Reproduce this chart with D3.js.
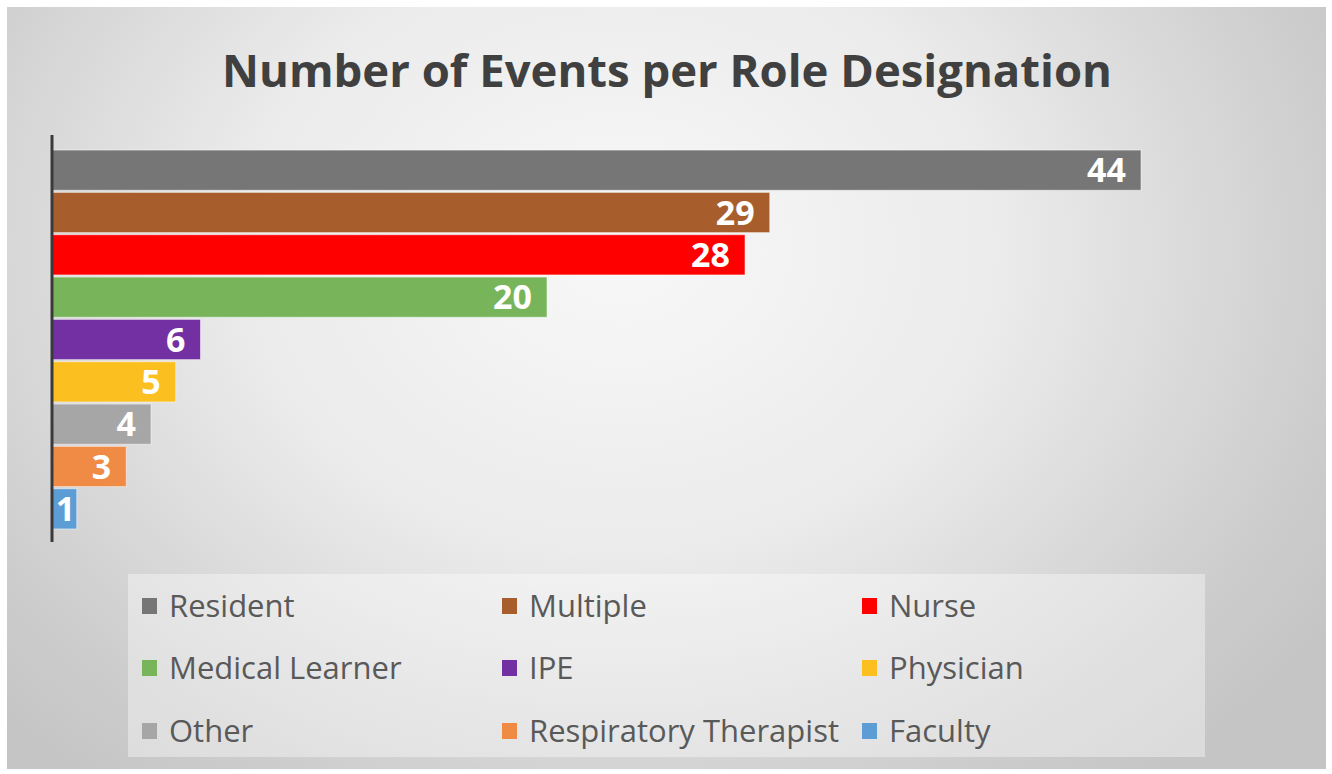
<!DOCTYPE html>
<html><head><meta charset="utf-8">
<script src="https://cdn.jsdelivr.net/npm/d3@7/dist/d3.min.js"></script>
<style>body{margin:0;background:#fff;overflow:hidden}</style>
</head><body>
<svg id="c" width="1332" height="774"></svg>
<script>
const categories = ["Resident","Multiple","Nurse","Medical Learner","IPE","Physician","Other","Respiratory Therapist","Faculty"];
const values = [44,29,28,20,6,5,4,3,1];
const colors = ["#767676","#A85E2C","#FF0000","#78B55A","#7230A3","#FBBF20","#A6A6A6","#EF8B45","#5D9DD6"];
const title = "Number of Events per Role Designation";

const svg = d3.select("#c");
const defs = svg.append("defs");
const rg = defs.append("radialGradient").attr("id","bg")
  .attr("gradientUnits","userSpaceOnUse").attr("cx",620).attr("cy",250).attr("r",850)
  .attr("gradientTransform","translate(620,250) scale(1,0.8) translate(-620,-250)");
rg.append("stop").attr("offset","0").attr("stop-color","#f8f8f8");
rg.append("stop").attr("offset","0.45").attr("stop-color","#ebebeb");
rg.append("stop").attr("offset","0.85").attr("stop-color","#cdcdcd");
rg.append("stop").attr("offset","1").attr("stop-color","#c5c5c5");

svg.append("rect").attr("x",0).attr("y",0).attr("width",1332).attr("height",774).attr("fill","#fff");
svg.append("rect").attr("x",7).attr("y",7).attr("width",1319).attr("height",762).attr("fill","url(#bg)");

// title
const t = svg.append("text").attr("x",667).attr("y",87).attr("text-anchor","middle")
  .attr("font-family","'Open Sans', sans-serif").attr("font-weight","bold")
  .attr("font-size",46).attr("fill","#404040").text(title);
const tw = t.node().getComputedTextLength();
t.attr("font-size", 46*890/tw);

const x = d3.scaleLinear().domain([0,44]).range([52,1141]);
const y = d3.scaleBand().domain(categories).range([149,530]).paddingInner(0.05).paddingOuter(0.025);

const g = svg.append("g");
g.selectAll("rect.bar").data(categories).join("rect").attr("class","bar")
  .attr("x",x(0)).attr("y",d=>y(d)).attr("width",(d,i)=>x(values[i])-x(0))
  .attr("height",y.bandwidth()).attr("fill",(d,i)=>colors[i])
  .attr("stroke","#ffffff").attr("stroke-opacity",0.5).attr("stroke-width",1);

g.selectAll("text.lab").data(categories).join("text").attr("class","lab")
  .attr("x",(d,i)=>values[i]<2?(x(values[i])+x(0))/2+1:x(values[i])-15)
  .attr("y",d=>y(d)+y.bandwidth()/2)
  .attr("dy","0.36em").attr("text-anchor",(d,i)=>values[i]<2?"middle":"end")
  .attr("font-family","'Open Sans', sans-serif").attr("font-weight","bold").attr("font-size",34)
  .attr("fill","#fff").text((d,i)=>values[i]);

// axis line
svg.append("line").attr("x1",52).attr("x2",52).attr("y1",135).attr("y2",542)
  .attr("stroke","#3a3a3a").attr("stroke-width",3);

// legend
svg.append("rect").attr("x",128).attr("y",574).attr("width",1077).attr("height",183)
  .attr("fill","#ffffff").attr("fill-opacity",0.38);
const colX = [136,496,856];
const rowY = [606,668,731];
const lg = svg.append("g");
categories.forEach((c,i)=>{
  const cx = colX[i%3], cy = rowY[Math.floor(i/3)];
  lg.append("rect").attr("x",cx+6).attr("y",cy-8).attr("width",15).attr("height",16).attr("fill",colors[i]);
  lg.append("text").attr("x",cx+33).attr("y",cy).attr("dy","0.36em")
    .attr("font-family","'Open Sans', sans-serif").attr("font-size",31).attr("fill","#595959")
    .text(c);
});
</script>
</body></html>
